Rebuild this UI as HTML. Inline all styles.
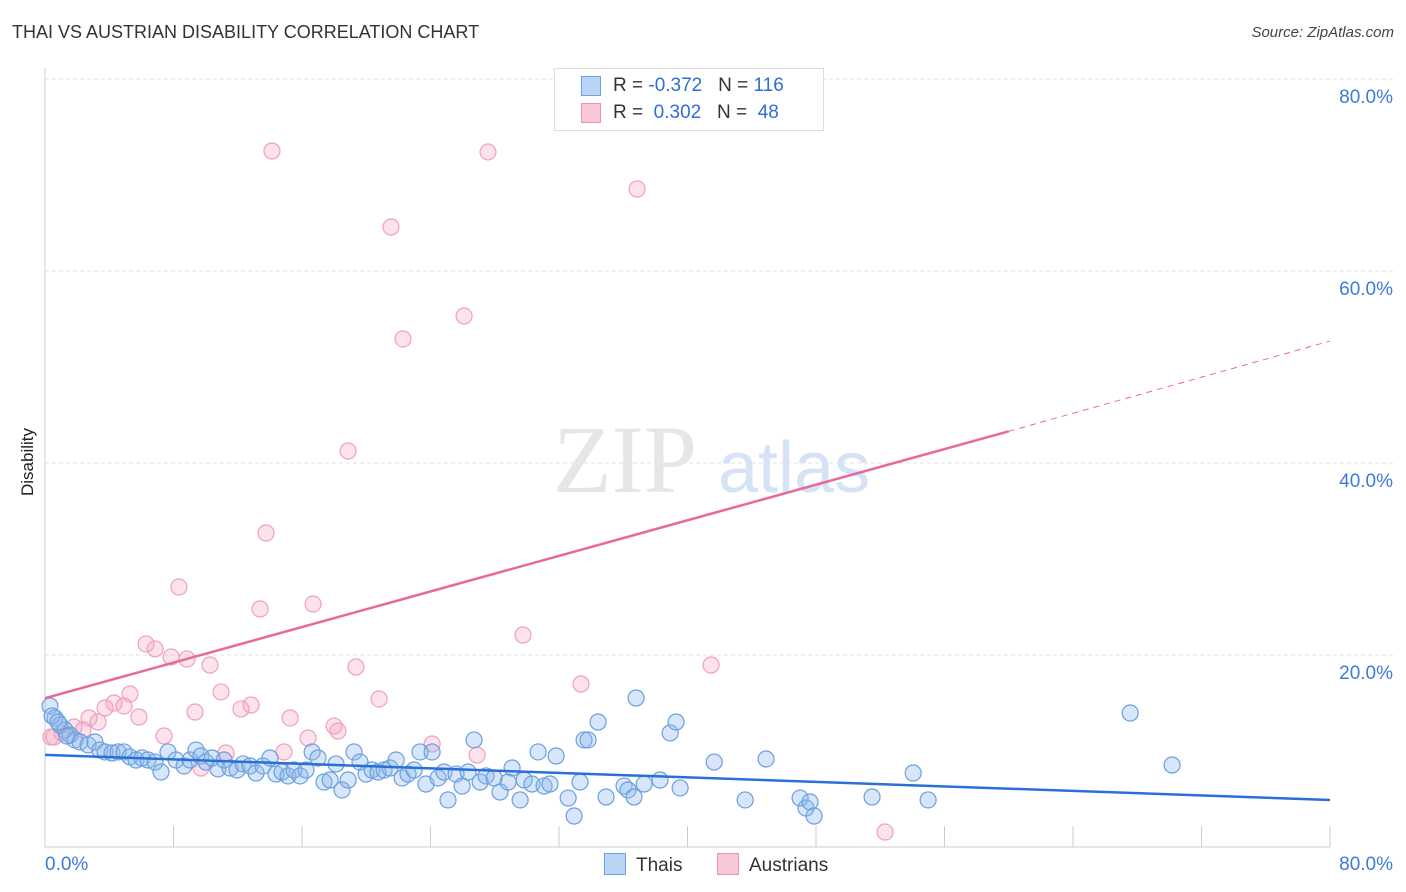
<!DOCTYPE html>
<html><head><meta charset="utf-8"><style>
body{margin:0;background:#fff;font-family:"Liberation Sans",sans-serif;}
#wrap{position:relative;width:1406px;height:892px;overflow:hidden;}
.t{position:absolute;white-space:nowrap;}
</style></head><body>
<div id="wrap">
<div class="t" style="left:12px;top:22px;font-size:18px;color:#333;">THAI VS AUSTRIAN DISABILITY CORRELATION CHART</div>
<div class="t" style="right:12px;top:24px;font-size:15px;color:#444;font-style:italic;">Source: ZipAtlas.com</div>
<div class="t" style="left:6px;top:456px;font-size:17px;color:#222;transform:rotate(-90deg);transform-origin:left top;"><span style="position:relative;top:12px;left:-40px">Disability</span></div>
<svg id="svg" width="1406" height="892" style="position:absolute;left:0;top:0;"></svg>
<div class="t" style="left:554px;top:68px;width:268px;height:61px;border:1px solid #ddd;background:#fff;font-size:19px;">
 <div style="position:absolute;left:26px;top:7px;width:18px;height:18px;background:#b9d4f4;border:1px solid #6fa0e0;"></div>
 <div style="position:absolute;left:26px;top:34px;width:18px;height:18px;background:#f9c6d5;border:1px solid #ef90ae;"></div>
 <div class="t" style="left:58px;top:6px;color:#333">R = <span style="color:#2e6fd3">-0.372</span>&nbsp;&nbsp;&nbsp;N = <span style="color:#2e6fd3">116</span></div>
 <div class="t" style="left:58px;top:33px;color:#333">R = &nbsp;<span style="color:#2e6fd3">0.302</span>&nbsp;&nbsp;&nbsp;N = &nbsp;<span style="color:#2e6fd3">48</span></div>
</div>
<div class="t" style="left:604px;top:853px;font-size:19px;color:#333"><span style="display:inline-block;width:20px;height:20px;background:#b9d4f4;border:1px solid #6fa0e0;vertical-align:-4px;margin-right:10px"></span>Thais</div>
<div class="t" style="left:717px;top:853px;font-size:19px;color:#333"><span style="display:inline-block;width:20px;height:20px;background:#f9c6d5;border:1px solid #ef90ae;vertical-align:-4px;margin-right:10px"></span>Austrians</div>
</div>
<script>
const yTicks=[20,40,60,80];
const xTickLabels=["0.0%","80.0%"];
const pinkPx=[[272,151],[488,152],[637,189],[391,227],[464,316],[403,339],[348,451],[266,533],[179,587],[260,609],[313,604],[146,644],[155,649],[171,657],[187,659],[210,665],[523,635],[356,667],[711,665],[581,684],[130,694],[221,692],[379,699],[114,703],[105,708],[124,706],[251,705],[241,709],[195,712],[139,717],[290,718],[89,718],[98,722],[74,727],[83,730],[62,733],[54,737],[164,736],[334,726],[338,731],[308,738],[432,744],[284,752],[226,753],[477,755],[201,768],[885,832],[51,737]];
const bluePx=[[50,706],[55,718],[60,725],[65,730],[70,735],[75,740],[80,742],[88,745],[95,742],[100,750],[105,752],[112,753],[118,752],[124,752],[130,757],[136,760],[142,758],[148,760],[155,762],[161,772],[168,752],[176,760],[184,766],[190,760],[196,750],[201,756],[206,762],[212,758],[218,769],[224,760],[230,768],[237,770],[243,764],[250,766],[256,773],[263,766],[270,758],[276,774],[282,772],[288,776],[294,770],[300,776],[306,770],[312,752],[318,758],[324,782],[330,780],[336,764],[342,790],[348,780],[354,752],[360,762],[366,774],[372,770],[378,772],[384,770],[390,768],[396,760],[402,778],[408,774],[414,770],[420,752],[426,784],[432,752],[438,778],[444,772],[448,800],[456,774],[462,786],[468,772],[474,740],[480,782],[486,776],[494,778],[500,792],[508,782],[512,768],[520,800],[524,780],[532,784],[538,752],[544,786],[550,784],[556,756],[568,798],[574,816],[580,782],[584,740],[588,740],[598,722],[606,797],[624,786],[628,790],[634,797],[636,698],[644,784],[660,780],[670,733],[676,722],[680,788],[714,762],[745,800],[766,759],[800,798],[806,808],[810,802],[814,816],[872,797],[913,773],[928,800],[1130,713],[1172,765],[52,716],[58,722],[67,736]];
// convert to data values (percent)
const pinkX=pinkPx.map(p=>+((p[0]-45)/16.06).toFixed(2));
const pinkY=pinkPx.map(p=>+((847-p[1])/9.6).toFixed(2));
const blueX=bluePx.map(p=>+((p[0]-45)/16.06).toFixed(2));
const blueY=bluePx.map(p=>+((847-p[1])/9.6).toFixed(2));
const blueTrend=[[0,9.6],[80,4.9]];
const pinkTrend=[[0,15.5],[60,43.3],[80,52.7]];
const X=v=>45+v*16.0625, Y=v=>847-v*9.6;
const s=document.getElementById('svg'),NS='http://www.w3.org/2000/svg';
function mk(t,a,name){const e=document.createElementNS(NS,t);for(const k in a)e.setAttribute(k,a[k]);


s.appendChild(e);return e;}
yTicks.forEach(v=>{mk('line',{x1:45,x2:1393,y1:Y(v),y2:Y(v),stroke:'#e2e2e2','stroke-dasharray':'4,3'},'gridline');
const t=mk('text',{x:1393,y:Y(v)+24,'text-anchor':'end','font-size':19,fill:'#3f7ad8','font-family':'Liberation Sans'},'y-tick-label');t.textContent=v.toFixed(1)+'%';});
mk('line',{x1:45,x2:45,y1:68,y2:847,stroke:'#ccc'},'y-axis');
mk('line',{x1:45,x2:1330,y1:847,y2:847,stroke:'#ccc'},'x-axis');
for(let i=0;i<=10;i++){mk('line',{x1:X(i*8),x2:X(i*8),y1:826,y2:847,stroke:'#ccc'},'x-tick');}
let t=mk('text',{x:45,y:870,'font-size':19,fill:'#3f7ad8','font-family':'Liberation Sans'},'x-tick-label');t.textContent=xTickLabels[0];
t=mk('text',{x:1393,y:870,'text-anchor':'end','font-size':19,fill:'#3f7ad8','font-family':'Liberation Sans'},'x-tick-label');t.textContent=xTickLabels[1];
t=mk('text',{x:553,y:492,'font-size':96,fill:'#e6e6e6','font-family':'Liberation Serif'},'watermark-zip');t.textContent='ZIP';
t=mk('text',{x:718,y:492,'font-size':72,fill:'#d5e3f5','font-family':'Liberation Sans'},'watermark-atlas');t.textContent='atlas';
pinkX.forEach((x,i)=>mk('circle',{cx:X(x),cy:Y(pinkY[i]),r:8,fill:'rgba(244,160,188,0.3)',stroke:'#f0a0ba','stroke-width':1.2},'austrian-point'));
blueX.forEach((x,i)=>mk('circle',{cx:X(x),cy:Y(blueY[i]),r:8,fill:'rgba(140,184,236,0.35)',stroke:'#6a9fe0','stroke-width':1.2},'thai-point'));
mk('line',{x1:X(blueTrend[0][0]),y1:Y(blueTrend[0][1]),x2:X(blueTrend[1][0]),y2:Y(blueTrend[1][1]),stroke:'#2a6fd6','stroke-width':2.5},'thai-trend-line');
mk('line',{x1:X(pinkTrend[0][0]),y1:Y(pinkTrend[0][1]),x2:X(pinkTrend[1][0]),y2:Y(pinkTrend[1][1]),stroke:'#e8689a','stroke-width':2.5},'austrian-trend-line');
mk('line',{x1:X(pinkTrend[1][0]),y1:Y(pinkTrend[1][1]),x2:X(pinkTrend[2][0]),y2:Y(pinkTrend[2][1]),stroke:'#e8689a','stroke-width':1,'stroke-dasharray':'6,5'},'austrian-trend-extension');
</script>
</body></html>
